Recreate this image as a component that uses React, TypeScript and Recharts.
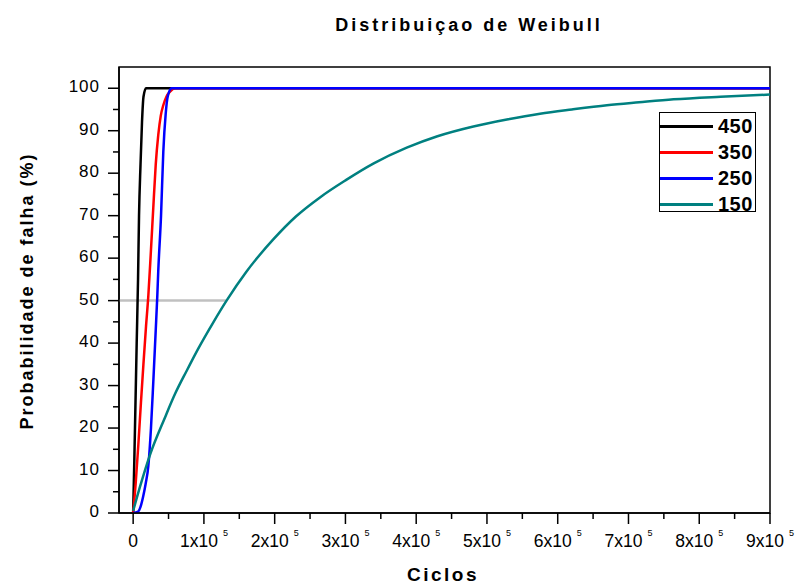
import React from 'react';
import { LineChart, Line, XAxis, YAxis, ReferenceArea } from 'recharts';

// Weibull CDF curves (ciclos, % falha)
const curve450 = [
  { x: 0, y: 0 }, { x: 1600, y: 12 }, { x: 5000, y: 40 }, { x: 6900, y: 55 },
  { x: 8300, y: 70 }, { x: 10400, y: 82 }, { x: 12500, y: 92 }, { x: 14600, y: 98 },
  { x: 18200, y: 100 }, { x: 900000, y: 100 },
];
const curve350 = [
  { x: 0, y: 0 }, { x: 3600, y: 7 }, { x: 7300, y: 16 }, { x: 11000, y: 26 },
  { x: 14500, y: 35 }, { x: 18200, y: 44 }, { x: 21400, y: 51 }, { x: 25200, y: 62 },
  { x: 28500, y: 72 }, { x: 31900, y: 82 }, { x: 35500, y: 89 }, { x: 39000, y: 93.5 },
  { x: 42600, y: 96 }, { x: 47000, y: 98 }, { x: 52100, y: 99.2 }, { x: 59100, y: 100 },
  { x: 900000, y: 100 },
];
const curve250 = [
  { x: 0, y: 0 }, { x: 7000, y: 0.3 }, { x: 10500, y: 1.5 }, { x: 14300, y: 4 },
  { x: 17800, y: 7 }, { x: 21400, y: 11 }, { x: 25200, y: 20 }, { x: 28500, y: 31 },
  { x: 31900, y: 43 }, { x: 34100, y: 51 }, { x: 35500, y: 57 }, { x: 39400, y: 70 },
  { x: 42600, y: 85 }, { x: 46000, y: 94 }, { x: 48800, y: 98 }, { x: 54500, y: 100 },
  { x: 900000, y: 100 },
];
const curve150 = [
  { x: 0, y: 0.5 }, { x: 9700, y: 6.2 }, { x: 23800, y: 13.7 }, { x: 45000, y: 22.5 },
  { x: 59100, y: 28 }, { x: 75700, y: 33.5 }, { x: 92000, y: 38.7 }, { x: 113300, y: 44.9 },
  { x: 132000, y: 50 }, { x: 160000, y: 56.8 }, { x: 198000, y: 64.4 }, { x: 230000, y: 69.8 },
  { x: 264000, y: 74.3 }, { x: 300000, y: 78.3 }, { x: 340000, y: 82.3 }, { x: 386600, y: 86 },
  { x: 430000, y: 88.7 }, { x: 480800, y: 91 }, { x: 530000, y: 92.7 }, { x: 575000, y: 94 },
  { x: 620000, y: 95 }, { x: 669500, y: 96 }, { x: 715000, y: 96.7 }, { x: 763700, y: 97.4 },
  { x: 830000, y: 98 }, { x: 900000, y: 98.5 },
];
// gray marker at 50 %
const halfLine = [{ x: -20000, y: 50 }, { x: 131000, y: 50 }];

const seriesNames = ['450', '350', '250', '150'];
const seriesColors = ['#000000', '#ff0000', '#0000ff', '#008080'];
const seriesData = [curve450, curve350, curve250, curve150];

const xTicks = [0, 50000, 100000, 150000, 200000, 250000, 300000, 350000, 400000, 450000,
  500000, 550000, 600000, 650000, 700000, 750000, 800000, 850000, 900000];
const yTicks = [0, 5, 10, 15, 20, 25, 30, 35, 40, 45, 50, 55, 60, 65, 70, 75, 80, 85, 90, 95, 100];

const FONT = '"Liberation Sans", Arial, sans-serif';

const XTick = ({ x, y, payload }: any) => {
  const v = payload.value;
  const major = v % 100000 === 0;
  const n = v / 100000;
  return (
    <g>
      <line x1={x} x2={x} y1={y} y2={y + (major ? 11 : 6)} stroke="#000" strokeWidth={1.5} />
      {major && (
        <text x={x} y={y + 34} textAnchor="middle" fontSize={17.5} fontFamily={FONT} fill="#000">
          {v === 0 ? '0' : (
            <>
              <tspan>{n}x10</tspan>
              <tspan dx={5} dy={-11} fontSize={9}>5</tspan>
            </>
          )}
        </text>
      )}
    </g>
  );
};

const YTick = ({ x, y, payload }: any) => {
  const v = payload.value;
  const major = v % 10 === 0;
  return (
    <g>
      <line x1={x - (major ? 11 : 6)} x2={x} y1={y} y2={y} stroke="#000" strokeWidth={1.5} />
      {major && (
        <text x={x - 19} y={y + 4} textAnchor="end" fontSize={17} letterSpacing={1} fontFamily={FONT} fill="#000">
          {v}
        </text>
      )}
    </g>
  );
};

export default function App() {
  return (
    <div style={{ position: 'absolute', left: 0, top: 0, width: 799, height: 586, background: '#fff', fontFamily: FONT }}>
      <LineChart width={799} height={586} margin={{ top: 67, right: 29, bottom: 0, left: 0 }}>
        <XAxis
          type="number"
          dataKey="x"
          domain={[-20000, 900000]}
          ticks={xTicks}
          interval={0}
          allowDataOverflow
          height={73}
          tickSize={0}
          tickMargin={0}
          tickLine={false}
          axisLine={{ stroke: '#000', strokeWidth: 1.5 }}
          tick={<XTick />}
        />
        <YAxis
          type="number"
          dataKey="y"
          domain={[0, 105]}
          ticks={yTicks}
          interval={0}
          allowDataOverflow
          width={119}
          tickSize={0}
          tickMargin={0}
          tickLine={false}
          axisLine={{ stroke: '#000', strokeWidth: 1.5 }}
          tick={<YTick />}
        />
        <ReferenceArea x1={-20000} x2={900000} y1={0} y2={105} fill="none" stroke="#000" strokeWidth={1.5} />
        <Line data={halfLine} dataKey="y" stroke="#c0c0c0" strokeWidth={2.5} dot={false} isAnimationActive={false} />
        {seriesData.map((d, i) => (
          <Line
            key={seriesNames[i]}
            data={d}
            dataKey="y"
            name={seriesNames[i]}
            type="monotone"
            stroke={seriesColors[i]}
            strokeWidth={2.5}
            dot={false}
            isAnimationActive={false}
          />
        ))}
      </LineChart>

      <svg width={799} height={586} style={{ position: 'absolute', left: 0, top: 0, pointerEvents: 'none' }}>
        <text x={469} y={31} textAnchor="middle" fontSize={18} fontWeight="bold" letterSpacing={3} fill="#000" fontFamily={FONT}>
          Distribuiçao de Weibull
        </text>
        <text x={443} y={581} textAnchor="middle" fontSize={19} fontWeight="bold" letterSpacing={2.5} fill="#000" fontFamily={FONT}>
          Ciclos
        </text>
        <text transform="translate(33,291) rotate(-90)" textAnchor="middle" fontSize={18} fontWeight="bold" letterSpacing={2} fill="#000" fontFamily={FONT}>
          Probabilidade de falha (%)
        </text>
      </svg>

      <div style={{ position: 'absolute', left: 659, top: 112, width: 95, height: 98, border: '1.5px solid #000', background: '#fff' }}>
        {seriesNames.map((name, i) => (
          <div key={name} style={{ position: 'absolute', left: 0, top: 1 + i * 26, height: 24, display: 'flex', alignItems: 'center' }}>
            <div style={{ width: 53, height: 3, background: seriesColors[i] }} />
            <span style={{ marginLeft: 5, fontSize: 20, fontWeight: 'bold', letterSpacing: 0.5, color: '#000', lineHeight: '24px' }}>
              {name}
            </span>
          </div>
        ))}
      </div>
    </div>
  );
}
